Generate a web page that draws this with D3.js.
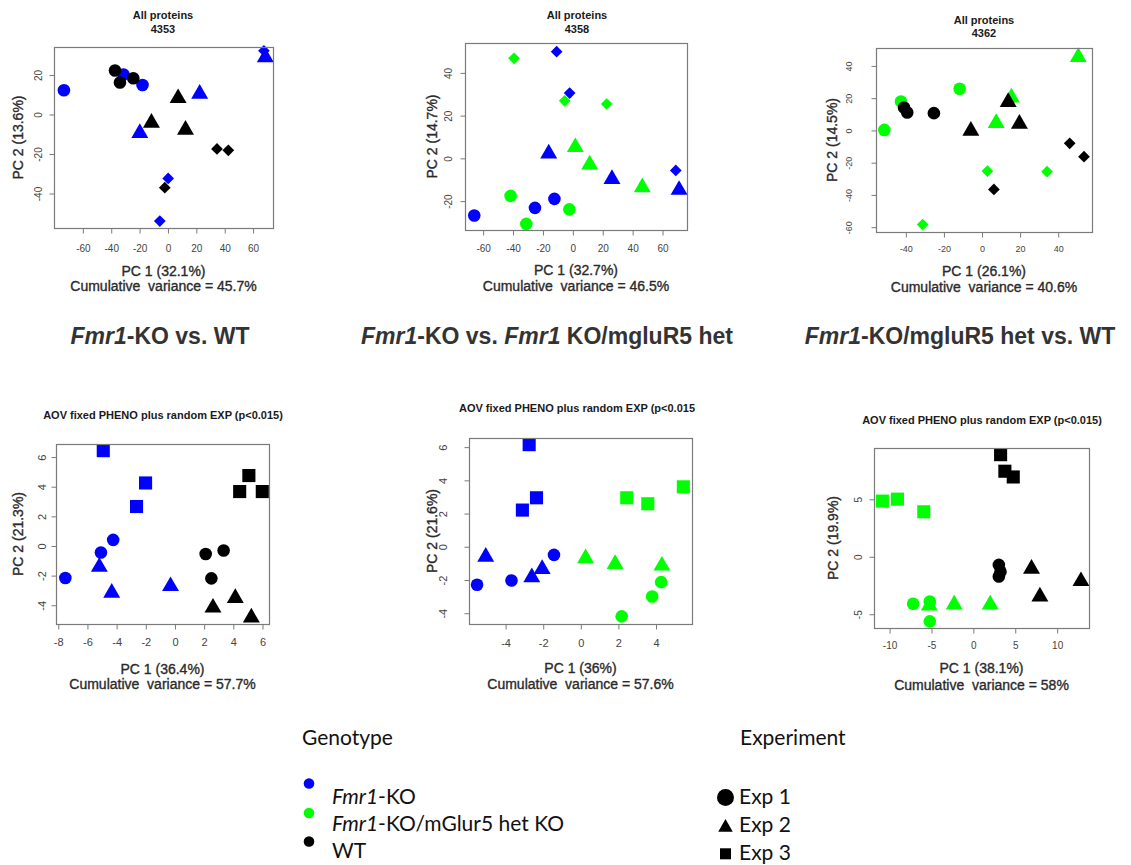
<!DOCTYPE html>
<html><head><meta charset="utf-8">
<script src="https://cdn.jsdelivr.net/npm/d3@7"></script>
<style>body{margin:0;background:#fff} svg{display:block}</style>
</head><body>
<svg id="chart" width="1131" height="865"></svg>
<script>
// ================= DATA =================
const genotypes = ["KO", "HET", "WT"];
const genotypeLegend = [["Fmr1", "-KO"], ["Fmr1", "-KO/mGlur5 het KO"], ["", "WT"]];
const experiments = ["Exp 1", "Exp 2", "Exp 3"];

// Panel 1 : Fmr1-KO vs WT (all proteins, 4353)
const p1PC1 = [-73, -31, -17.6, 22.7, -19.5, 69, 68, 0.5, -5.4,   -37, -33.5, -24.1, 7.5, -11.3, 12.7, 34.9, 42.9, -1.9];
const p1PC2 = [12, 20, 14.7, 10.2, -9.7, 28.7, 32, -32.6, -54.2,   22, 15.9, 18.1, 8, -4.5, -8, -17.7, -18.4, -37.3];
const p1Geno = ["KO","KO","KO","KO","KO","KO","KO","KO","KO","WT","WT","WT","WT","WT","WT","WT","WT","WT"];
const p1Exp  = [1,1,1,2,2,2,3,3,3, 1,1,1,2,2,2,3,3,3];

// Panel 2 : Fmr1-KO vs Fmr1 KO/mGluR5 het (all proteins, 4358)
const p2PC1 = [-10.5, -1.8, 69.2, -15.8, 26.5, 71.4, -12, -25, -65.6,   -39, -5.1, 23, 2, 11.6, 46.8, -41.3, -2, -30.8];
const p2PC2 = [49.7, 30.3, -5.9, 2, -9.9, -15, -19.2, -23.4, -27,   46.6, 26.7, 25.2, 5, -3.1, -13.8, -17.8, -24.1, -30.9];
const p2Geno = ["KO","KO","KO","KO","KO","KO","KO","KO","KO","HET","HET","HET","HET","HET","HET","HET","HET","HET"];
const p2Exp  = [3,3,3,2,2,2,1,1,1, 3,3,3,2,2,2,1,1,1];

// Panel 3 : Fmr1-KO/mGluR5 het vs WT (all proteins, 4362)
const p3PC1 = [-11.5, -42.3, -51, 50.8, 15.7, 7.7, 3.1, 34.4, -30.9,   -40.7, -39, -25, 14, -5.6, 19.9, 46.3, 53.8, 6.5];
const p3PC2 = [25.5, 17.6, 0, 45.2, 20, 4.2, -25.5, -25.9, -58.7,   13.9, 10.8, 10.4, 17.3, -0.5, 3.8, -8.3, -16.6, -36.9];
const p3Geno = ["HET","HET","HET","HET","HET","HET","HET","HET","HET","WT","WT","WT","WT","WT","WT","WT","WT","WT"];
const p3Exp  = [1,1,1,2,2,2,3,3,3, 1,1,1,2,2,2,3,3,3];

// Panel 4 : AOV, Fmr1-KO vs WT
const p4PC1 = [-4.88, -1.98, -2.6, -4.2, -5.04, -7.48, -5.15, -4.3, -0.27,   5.1, 4.47, 6.02, 2.14, 3.37, 2.53, 2.64, 4.17, 5.27];
const p4PC2 = [6.4, 4.22, 2.63, 0.38, -0.47, -2.2, -1.45, -3.2, -2.75,   4.72, 3.64, 3.64, -0.58, -0.34, -2.22, -4.2, -3.55, -4.87];
const p4Geno = ["KO","KO","KO","KO","KO","KO","KO","KO","KO","WT","WT","WT","WT","WT","WT","WT","WT","WT"];
const p4Exp  = [3,3,3,1,1,1,2,2,2, 3,3,3,1,1,1,2,2,2];

// Panel 5 : AOV, Fmr1-KO vs Fmr1 KO/mGluR5 het
const p5PC1 = [-2.72, -2.33, -3.08, -5.03, -2.03, -2.58, -1.4, -3.66, -5.49,   2.47, 3.59, 5.48, 0.28, 1.85, 4.34, 4.3, 3.82, 2.2];
const p5PC2 = [6.12, 2.92, 2.18, -0.63, -1.37, -1.87, -0.52, -2.06, -2.32,   2.92, 2.56, 3.58, -0.73, -1.07, -1.17, -2.16, -3.02, -4.22];
const p5Geno = ["KO","KO","KO","KO","KO","KO","KO","KO","KO","HET","HET","HET","HET","HET","HET","HET","HET","HET"];
const p5Exp  = [3,3,3,2,2,2,1,1,1, 3,3,3,2,2,2,1,1,1];

// Panel 6 : AOV, Fmr1-KO/mGluR5 het vs WT
const p6PC1 = [-10.8, -9.0, -5.86, -5.2, -2.23, 2.07, -7.13, -5.14, -5.14,   3.31, 3.82, 4.82, 3.1, 3.1, 3.3, 7.0, 12.9, 8.0];
const p6PC2 = [4.8, 4.97, 3.87, -4.3, -4.2, -4.2, -4.13, -3.93, -5.66,   8.84, 7.4, 6.9, -0.75, -1.76, -1.35, -1.1, -2.17, -3.5];
const p6Geno = ["HET","HET","HET","HET","HET","HET","HET","HET","HET","WT","WT","WT","WT","WT","WT","WT","WT","WT"];
const p6Exp  = [3,3,3,2,2,2,1,1,1, 3,3,3,1,1,1,2,2,2];

// Tick labels
const p1XTicks = [-60, -40, -20, 0, 20, 40, 60], p1YTicks = [-40, -20, 0, 20];
const p2XTicks = [-60, -40, -20, 0, 20, 40, 60], p2YTicks = [-20, 0, 20, 40];
const p3XTicks = [-40, -20, 0, 20, 40],          p3YTicks = [-60, -40, -20, 0, 20, 40];
const p4XTicks = [-8, -6, -4, -2, 0, 2, 4, 6],   p4YTicks = [-4, -2, 0, 2, 4, 6];
const p5XTicks = [-4, -2, 0, 2, 4],              p5YTicks = [-4, -2, 0, 2, 4, 6];
const p6XTicks = [-10, -5, 0, 5, 10],            p6YTicks = [-5, 0, 5];

// Texts
const topTitle = "All proteins";
const topCounts = ["4353", "4358", "4362"];
const aovTitles = ["AOV fixed PHENO plus random EXP (p<0.015)", "AOV fixed PHENO plus random EXP (p<0.015", "AOV fixed PHENO plus random EXP (p<0.015)"];
const pc1Labels = ["PC 1 (32.1%)", "PC 1 (32.7%)", "PC 1 (26.1%)", "PC 1 (36.4%)", "PC 1 (36%)", "PC 1 (38.1%)"];
const pc2Labels = ["PC 2 (13.6%)", "PC 2 (14.7%)", "PC 2 (14.5%)", "PC 2 (21.3%)", "PC 2 (21.6%)", "PC 2 (19.9%)"];
const cumVariance = ["45.7%", "46.5%", "40.6%", "57.7%", "57.6%", "58%"];
const comparisons = [
  [["Fmr1", true], ["-KO vs. WT", false]],
  [["Fmr1", true], ["-KO vs. ", false], ["Fmr1", true], [" KO/mgluR5 het", false]],
  [["Fmr1", true], ["-KO/mgluR5 het vs. WT", false]]
];

// ================= DRAWING =================
const svg = d3.select("#chart");
const FONT = "'Liberation Sans', Arial, Helvetica, sans-serif";
const color = d3.scaleOrdinal().domain(genotypes).range(["#0000ff", "#00ff00", "#000000"]);

function shapePath(shape, s) {
  const p = d3.path();
  if (shape === "circle") { p.arc(0, 0, s, 0, 2 * Math.PI); }
  else if (shape === "triangle") {
    const a = s * 1.555;
    p.moveTo(0, -a); p.lineTo(a * Math.sqrt(3) / 2, a / 2); p.lineTo(-a * Math.sqrt(3) / 2, a / 2);
  } else if (shape === "square") {
    const h = s * 1.04;
    p.rect(-h, -h, 2 * h, 2 * h);
  } else if (shape === "diamond") {
    const h = s * 0.93;
    p.moveTo(0, -h); p.lineTo(h, 0); p.lineTo(0, h); p.lineTo(-h, 0);
  }
  p.closePath();
  return p.toString();
}

const panels = [
  {pc1: p1PC1, pc2: p1PC2, geno: p1Geno, exp: p1Exp, xt: p1XTicks, yt: p1YTicks,
   box: {l: 54, r: 273, t: 47, b: 228}, xd: [-80, 74.4], yd: [-57.7, 33.9],
   shapes: ["circle", "triangle", "diamond"], titles: [topTitle, topCounts[0]], titleY: [15, 29], titleX: 163,
   tickFont: 10, xTickY: 248, yTickX: 38, ylabX: 18, xlabY: 271, cumY: 286, k: 0},
  {pc1: p2PC1, pc2: p2PC2, geno: p2Geno, exp: p2Exp, xt: p2XTicks, yt: p2YTicks,
   box: {l: 465, r: 687, t: 43, b: 230}, xd: [-71.8, 76.7], yd: [-33.75, 53.75],
   shapes: ["circle", "triangle", "diamond"], titles: [topTitle, topCounts[1]], titleY: [15, 29], titleX: 577,
   tickFont: 10, xTickY: 248, yTickX: 448, ylabX: 432, xlabY: 270, cumY: 286, k: 1},
  {pc1: p3PC1, pc2: p3PC2, geno: p3Geno, exp: p3Exp, xt: p3XTicks, yt: p3YTicks,
   box: {l: 876, r: 1092, t: 48, b: 232}, xd: [-55.4, 58], yd: [-63.3, 50.8],
   shapes: ["circle", "triangle", "diamond"], titles: [topTitle, topCounts[2]], titleY: [20, 33], titleX: 984,
   tickFont: 9, xTickY: 248, yTickX: 848, ylabX: 832, xlabY: 271, cumY: 287, k: 2},
  {pc1: p4PC1, pc2: p4PC2, geno: p4Geno, exp: p4Exp, xt: p4XTicks, yt: p4YTicks,
   box: {l: 56, r: 269, t: 444, b: 624}, xd: [-8.12, 6.48], yd: [-5.3, 6.85],
   shapes: ["circle", "triangle", "square"], titles: [aovTitles[0]], titleY: [415], titleX: 163,
   tickFont: 11, xTickY: 642, yTickX: 42, ylabX: 18, xlabY: 669, cumY: 684, k: 3},
  {pc1: p5PC1, pc2: p5PC2, geno: p5Geno, exp: p5Exp, xt: p5XTicks, yt: p5YTicks,
   box: {l: 469, r: 692, t: 438, b: 624}, xd: [-5.92, 5.94], yd: [-4.68, 6.52],
   shapes: ["circle", "triangle", "square"], titles: [aovTitles[1]], titleY: [408], titleX: 577,
   tickFont: 11, xTickY: 643, yTickX: 443, ylabX: 432, xlabY: 668, cumY: 684, k: 4},
  {pc1: p6PC1, pc2: p6PC2, geno: p6Geno, exp: p6Exp, xt: p6XTicks, yt: p6YTicks,
   box: {l: 874, r: 1089, t: 448, b: 628}, xd: [-11.8, 13.86], yd: [-6.24, 9.42],
   shapes: ["circle", "triangle", "square"], titles: [aovTitles[2]], titleY: [420], titleX: 982,
   tickFont: 10, xTickY: 645, yTickX: 858, ylabX: 833, xlabY: 668, cumY: 685, k: 5}
];

const GREY = "#7a7a7a";

panels.forEach(cfg => {
  const g = svg.append("g");
  const {l, r, t, b} = cfg.box;
  const x = d3.scaleLinear().domain(cfg.xd).range([l, r]);
  const y = d3.scaleLinear().domain(cfg.yd).range([b, t]);

  // points
  const pts = cfg.pc1.map((v, i) => ({x: v, y: cfg.pc2[i], g: cfg.geno[i], e: cfg.exp[i]}));
  g.selectAll("path.pt").data(pts).join("path").attr("class", "pt")
    .attr("transform", d => `translate(${x(d.x)},${y(d.y)})`)
    .attr("d", d => shapePath(cfg.shapes[d.e - 1], 6.3))
    .attr("fill", d => color(d.g));

  // box
  g.append("rect").attr("x", l + 0.5).attr("y", t + 0.5).attr("width", r - l).attr("height", b - t)
    .attr("fill", "none").attr("stroke", GREY).attr("stroke-width", 1.2);

  // x axis
  const xa = g.append("g").attr("transform", `translate(0.5,${b + 0.5})`)
    .call(d3.axisBottom(x).tickValues(cfg.xt).tickSize(5).tickFormat(d => String(d)))
    .attr("font-family", FONT).attr("font-size", cfg.tickFont);
  xa.select(".domain").remove();
  xa.selectAll(".tick line").attr("stroke", GREY);
  xa.selectAll(".tick text").attr("y", cfg.xTickY - b).attr("dy", "0.35em").attr("fill", "#444");

  // y axis
  const ya = g.append("g").attr("transform", `translate(${l + 0.5},0.5)`)
    .call(d3.axisLeft(y).tickValues(cfg.yt).tickSize(5).tickFormat(d => String(d)))
    .attr("font-family", FONT).attr("font-size", cfg.tickFont);
  ya.select(".domain").remove();
  ya.selectAll(".tick line").attr("stroke", GREY);
  ya.selectAll(".tick text").attr("x", 0).attr("dy", "0.35em").attr("text-anchor", "middle")
    .attr("transform", `translate(${cfg.yTickX - l},0) rotate(-90)`).attr("fill", "#444");

  // titles
  cfg.titles.forEach((tt, i) => {
    g.append("text").attr("x", cfg.titleX).attr("y", cfg.titleY[i]).attr("dy", "0.35em")
      .attr("text-anchor", "middle").attr("font-family", FONT).attr("font-weight", "bold")
      .attr("font-size", 11).attr("fill", "#1a1a1a").text(tt);
  });

  // axis labels
  const cx = (l + r) / 2, cy = (t + b) / 2;
  const lab = sel => sel.attr("font-family", FONT).attr("font-size", 14).attr("fill", "#2a2a2a")
    .attr("stroke", "#2a2a2a").attr("stroke-width", 0.35);
  g.append("text").attr("x", cx).attr("y", cfg.xlabY).attr("dy", "0.35em").attr("text-anchor", "middle")
    .call(lab).text(pc1Labels[cfg.k]);
  g.append("text").attr("x", cx).attr("y", cfg.cumY).attr("dy", "0.35em").attr("text-anchor", "middle")
    .call(lab).attr("xml:space", "preserve").style("white-space", "pre")
    .text("Cumulative  variance = " + cumVariance[cfg.k]);
  g.append("text").attr("transform", `translate(${cfg.ylabX},${cy}) rotate(-90)`).attr("dy", "0.35em")
    .attr("text-anchor", "middle").call(lab).text(pc2Labels[cfg.k]);
});

// comparison subtitles
const subX = [160, 547, 960];
comparisons.forEach((parts, i) => {
  const t = svg.append("text").attr("x", subX[i]).attr("y", 344).attr("text-anchor", "middle")
    .attr("font-family", FONT).attr("font-weight", "bold").attr("font-size", 23).attr("fill", "#333")
    .style("white-space", "pre");
  parts.forEach(([s, it]) => t.append("tspan").attr("font-style", it ? "italic" : "normal").text(s));
});

// legend
const LFONT = "Lato, 'Open Sans', sans-serif";
svg.append("text").attr("x", 302).attr("y", 745).attr("font-family", LFONT).attr("font-size", 21)
  .attr("fill", "#111").text("Genotype");
svg.append("text").attr("x", 740).attr("y", 745).attr("font-family", LFONT).attr("font-size", 21)
  .attr("fill", "#111").text("Experiment");

const dotY = [783.5, 813, 841.5], genoTextY = [803.5, 830.5, 857.5];
genotypes.forEach((gk, i) => {
  svg.append("circle").attr("cx", 309).attr("cy", dotY[i]).attr("r", 5.3).attr("fill", color(gk));
  const t = svg.append("text").attr("x", 332).attr("y", genoTextY[i]).attr("font-family", LFONT)
    .attr("font-size", 21).attr("fill", "#111");
  const [itPart, rest] = genotypeLegend[i];
  if (itPart) t.append("tspan").attr("font-style", "italic").text(itPart);
  t.append("tspan").text(rest);
});

const expShapes = ["circle", "triangle", "square"];
const expSize = [8.5, 5.4, 5.3];
const expMarkY = [797.5, 827.5, 853.8], expTextY = [803.5, 831.5, 859.5];
experiments.forEach((ex, i) => {
  svg.append("path").attr("transform", `translate(725.5,${expMarkY[i]})`)
    .attr("d", shapePath(expShapes[i], expSize[i])).attr("fill", "#000");
  svg.append("text").attr("x", 739).attr("y", expTextY[i]).attr("font-family", LFONT)
    .attr("font-size", 21).attr("fill", "#111").text(ex);
});
</script>
</body></html>
